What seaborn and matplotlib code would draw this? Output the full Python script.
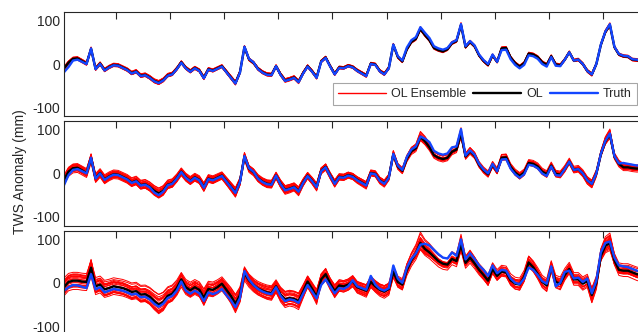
import numpy as np
import pandas as pd
import matplotlib
matplotlib.use("Agg")
import matplotlib.pyplot as plt
import seaborn as sns
from matplotlib.lines import Line2D

sns.set_theme(style="white")
plt.rcParams['font.family'] = ['Liberation Sans', 'DejaVu Sans']
plt.rcParams['axes.unicode_minus'] = False

# Monthly TWS anomalies (mm), Jan 2003 onwards
start_year = 2003
n_months = 132

truth_1 = [-19, -7, 8, 10, 5, 0, 36, -12, 0, -15,
           -8, -3, -4, -9, -14, -22, -18, -28, -26, -32,
           -40, -44, -38, -27, -24, -12, 3, -10, -18, -10,
           -16, -33, -13, -16, -11, -6, -19, -32, -45, -20,
           40, 12, 4, -12, -20, -25, -26, -5, -25, -39,
           -36, -32, -42, -22, -6, -18, -32, 5, 14, -6,
           -24, -9, -10, -5, -8, -16, -22, -28, 0, -2,
           -17, -24, -10, 45, 18, 8, 38, 55, 62, 85,
           72, 60, 41, 36, 33, 37, 50, 55, 92, 41,
           53, 43, 22, 9, 0, 22, 5, 32, 33, 11,
           -2, -10, -2, 20, 18, 12, 0, -6, 16, -4,
           -5, 10, 27, 8, 10, 0, -16, -24, 0, 45,
           75, 92, 40, 23, 19, 18, 11, 10, 8, 6, 8, 5]

ol_1 = [-10, 3, 12, 13, 7, 1, 35, -11, 1, -14,
        -7, -2, -3, -8, -13, -21, -17, -27, -25, -31,
        -39, -43, -37, -26, -23, -11, 4, -9, -17, -9,
        -15, -32, -12, -15, -10, -5, -18, -31, -44, -19,
        39, 11, 3, -11, -19, -24, -25, -5, -24, -38,
        -35, -31, -41, -21, -5, -17, -31, 6, 15, -5,
        -23, -8, -9, -4, -7, -15, -21, -27, 1, -1,
        -16, -23, -9, 44, 16, 6, 34, 51, 58, 81,
        67, 55, 37, 32, 29, 34, 48, 53, 90, 39,
        51, 41, 20, 7, -2, 20, 5, 36, 37, 15,
        2, -6, 2, 24, 22, 16, 4, -2, 18, -1,
        -3, 10, 27, 8, 10, 0, -16, -24, 0, 44,
        74, 90, 39, 22, 18, 17, 10, 9, 7, 5, 7, 4]

truth_2 = [-27, -4, 8, 10, 5, 0, 36, -12, 0, -15,
           -8, -3, -4, -9, -14, -22, -18, -28, -26, -32,
           -44, -50, -42, -27, -24, -12, 3, -10, -18, -10,
           -16, -33, -13, -16, -11, -6, -19, -32, -45, -20,
           40, 12, 4, -12, -20, -25, -26, -5, -25, -39,
           -36, -32, -42, -22, -6, -18, -32, 5, 14, -6,
           -24, -9, -10, -5, -8, -16, -22, -28, 0, -2,
           -17, -24, -10, 45, 18, 8, 38, 55, 62, 85,
           80, 72, 52, 46, 43, 46, 60, 62, 102, 41,
           53, 43, 22, 9, 0, 22, 5, 32, 33, 11,
           -2, -10, -2, 20, 18, 12, 0, -6, 16, -4,
           -5, 10, 27, 8, 10, 0, -16, -24, 0, 45,
           75, 92, 40, 23, 24, 22, 20, 18, 20, 18, 16, 15]

ol_2 = [-15, 4, 12, 13, 7, 1, 35, -11, 1, -14,
        -7, -2, -3, -8, -13, -21, -17, -27, -25, -31,
        -40, -46, -40, -26, -23, -11, 4, -9, -17, -9,
        -15, -32, -12, -15, -10, -5, -18, -31, -44, -19,
        39, 11, 3, -11, -19, -24, -25, -5, -24, -38,
        -35, -31, -41, -21, -5, -17, -31, 6, 15, -5,
        -23, -8, -9, -4, -7, -15, -21, -27, 1, -1,
        -16, -23, -9, 44, 16, 6, 34, 51, 58, 84,
        74, 60, 42, 36, 33, 36, 50, 55, 92, 39,
        51, 41, 20, 7, -2, 20, 5, 36, 37, 15,
        2, -6, 2, 24, 22, 16, 4, -2, 18, -1,
        -3, 10, 27, 8, 10, 0, -16, -24, 0, 44,
        74, 90, 39, 22, 14, 14, 12, 11, 12, 10, 9, 9]

truth_3 = [-18, -10, -5, -6, -9, -12, 20, -15, -10, -22,
           -18, -14, -16, -18, -22, -27, -25, -33, -32, -38,
           -48, -55, -48, -35, -30, -18, 3, -18, -25, -18,
           -24, -42, -22, -26, -22, -14, -28, -40, -56, -35,
           27, 8, -5, -14, -20, -24, -26, -10, -30, -42,
           -38, -40, -46, -25, -5, -20, -36, -5, 8, -8,
           -24, -12, -14, -8, 6, -8, -12, -16, 16, -4,
           -14, -18, -12, 40, 10, 0, 35, 55, 68, 88,
           90, 86, 76, 66, 58, 56, 70, 62, 100, 54,
           68, 55, 40, 30, 16, 40, 22, 30, 28, 10,
           0, -3, 10, 35, 30, 18, 4, -2, 38, -8,
           0, 25, 28, 10, 12, 2, 10, -24, 5, 70,
           92, 95, 58, 40, 38, 36, 32, 28, 26, 24, 25, 22]

ol_3 = [-10, 2, 5, 5, 3, 2, 35, -8, -4, -15,
        -12, -8, -10, -12, -16, -21, -19, -27, -26, -32,
        -42, -50, -44, -30, -25, -12, 8, -10, -17, -10,
        -16, -34, -14, -16, -10, -2, -16, -30, -48, -28,
        22, 6, -5, -13, -18, -22, -24, -8, -27, -38,
        -35, -37, -42, -20, 3, -14, -32, 8, 20, -2,
        -19, -6, -8, -4, 4, -10, -14, -18, 2, -8,
        -16, -20, -14, 25, 2, -4, 30, 52, 68, 92,
        78, 70, 60, 50, 44, 42, 55, 50, 88, 46,
        58, 45, 30, 18, 5, 32, 16, 26, 24, 6,
        -2, -4, 14, 47, 36, 20, 2, -6, 36, 2,
        -2, 18, 32, 8, 8, -2, 4, -28, 0, 62,
        85, 92, 52, 30, 28, 28, 24, 20, 18, 16, 17, 15]

# Ensemble member perturbation coefficients (relative units)
member_scale = [-1.0, 0.8, -0.55, 0.3, 0.95, -0.2, 0.6, -0.85, 0.1, -0.4,
                0.7, -0.7, 0.45, -0.05, 0.2, -0.95, 0.85, -0.3, 0.55, 0.0]
member_shift = [0.3, -0.6, 0.9, -0.2, 0.5, -1.0, 0.1, 0.7, -0.8, 0.4,
                -0.35, 0.15, -0.5, 1.0, -0.1, 0.6, -0.9, 0.25, 0.8, -0.45]
member_drift = [0.5, 0.2, -0.7, 0.9, -0.3, 0.6, -1.0, 0.1, 0.4, -0.5,
                0.8, -0.2, -0.9, 0.3, 0.7, -0.6, 0.0, 1.0, -0.4, -0.1]

# Spread level of each experiment
scale_amp = [0.05, 0.12, 0.22]
shift_amp = [3, 7, 13]
drift_amp = [2, 6, 12]

truths = [truth_1, truth_2, truth_3]
ols = [ol_1, ol_2, ol_3]

time = start_year + (np.arange(n_months) + 0.5) / 12
ramp = np.linspace(-1, 1, n_months)

blue = '#1346ff'
ink = '#262626'

fig = plt.figure(figsize=(6.38, 3.32), dpi=100)
W, H = 638, 332
left, right = 64, 655
panels_px = [(12, 116), (121.3, 225.5), (230.7, 335)]

axes = []
for k, (top, bottom) in enumerate(panels_px):
    ax = fig.add_axes([left / W, 1 - bottom / H, (right - left) / W, (bottom - top) / H])
    axes.append(ax)
    ol = np.array(ols[k], dtype=float)
    rows = []
    for m in range(len(member_scale)):
        vals = (ol * (1 + member_scale[m] * scale_amp[k])
                + member_shift[m] * shift_amp[k]
                + member_drift[m] * drift_amp[k] * ramp)
        rows.append(pd.DataFrame({'time': time, 'tws': vals, 'member': m}))
    ens = pd.concat(rows, ignore_index=True)
    sns.lineplot(data=ens, x='time', y='tws', units='member', estimator=None,
                 color='red', linewidth=0.7, ax=ax, legend=False)
    sns.lineplot(x=time, y=ol, color='black', linewidth=1.7, ax=ax)
    sns.lineplot(x=time, y=np.array(truths[k], dtype=float), color=blue,
                 linewidth=1.7, ax=ax)

    ax.set_xlim(time[0], time[-1])
    ax.set_ylim(-120, 120)
    ax.set_xticks(range(2004, 2014))
    ax.set_xticklabels([])
    ax.set_yticks([-100, 0, 100])
    ax.set_yticklabels(['-100', '0', '100'])
    ax.set_xlabel('')
    ax.set_ylabel('')
    ax.tick_params(direction='in', top=True, right=True, length=5, width=0.8,
                   colors=ink, labelsize=10, pad=3)
    for sp in ax.spines.values():
        sp.set_color(ink)
        sp.set_linewidth(0.8)

handles = [Line2D([], [], color='red', linewidth=1.0),
           Line2D([], [], color='black', linewidth=1.7),
           Line2D([], [], color=blue, linewidth=1.7)]
leg = axes[0].legend(handles, ['OL Ensemble', 'OL', 'Truth'], ncol=3,
                     loc='upper left', bbox_to_anchor=(333 / W, 1 - 83 / H),
                     bbox_transform=fig.transFigure, borderaxespad=0,
                     fontsize=9, handlelength=3.85, handletextpad=0.4,
                     columnspacing=0.55, borderpad=0.4, fancybox=False,
                     framealpha=1, edgecolor='#a6a6a6')
leg.get_frame().set_linewidth(0.8)
for t in leg.get_texts():
    t.set_color(ink)

fig.text(20 / W, 1 - 172 / H, 'TWS Anomaly (mm)', rotation=90, ha='center',
         va='center', fontsize=10, color=ink)

fig.savefig('out.png', dpi=100)
